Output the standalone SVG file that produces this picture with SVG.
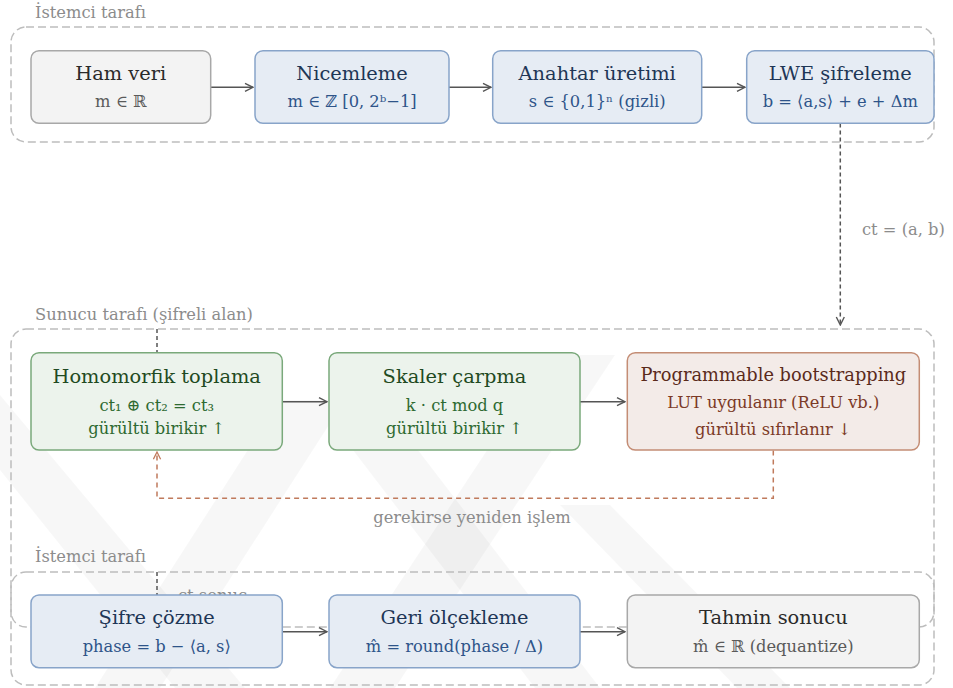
<svg xmlns="http://www.w3.org/2000/svg" width="953" height="688" viewBox="0 0 953 688">
  <defs>
    <marker id="arr" viewBox="0 0 10 10" refX="9" refY="5" markerWidth="10" markerHeight="10" markerUnits="userSpaceOnUse" orient="auto">
      <path d="M1,1 L9,5 L1,9" fill="none" stroke="#555" stroke-width="1.4"/>
    </marker>
    <marker id="arrBrown" viewBox="0 0 10 10" refX="9" refY="5" markerWidth="9" markerHeight="9" markerUnits="userSpaceOnUse" orient="auto">
      <path d="M1,1 L9,5 L1,9" fill="none" stroke="#c07a5c" stroke-width="1.4"/>
    </marker>
  </defs>
  <style>
    text { font-family: "DejaVu Serif", "Liberation Serif", serif; }
    .grp { fill: none; stroke: #bdbdbd; stroke-width: 1.5; stroke-dasharray: 8 4; }
    .grplabel { font-size: 16.3px; fill: #8c8c8c; }
    .title { font-size: 19.4px; text-anchor: middle; }
    .sub { font-size: 16.3px; text-anchor: middle; }
    .gray rect { fill: #f3f3f3; stroke: #a8a8a8; stroke-width: 1.5; }
    .gray .title { fill: #2a2a2a; }
    .gray .sub { fill: #5a5a5a; }
    .blue rect { fill: #e6ecf4; stroke: #88a4c9; stroke-width: 1.5; }
    .blue .title { fill: #1e3656; }
    .blue .sub { fill: #2e5489; }
    .green rect { fill: #ecf3ec; stroke: #7aa97b; stroke-width: 1.5; }
    .green .title { fill: #1f4a22; }
    .green .sub { fill: #2e6a31; }
    .brown rect { fill: #f3ebe8; stroke: #c48d75; stroke-width: 1.5; }
    .brown .title { fill: #5a2a1b; }
    .brown .sub { fill: #7c3a27; }
    .flow { fill: none; stroke: #555; stroke-width: 1.5; marker-end: url(#arr); }
    .hand { fill: none; stroke: #555; stroke-width: 1.5; stroke-dasharray: 4 3; }
    .loop { fill: none; stroke: #c07a5c; stroke-width: 1.5; stroke-dasharray: 5 4; marker-end: url(#arrBrown); }
    .elabel { font-size: 16.3px; fill: #8c8c8c; }
  </style>

  <rect width="953" height="688" fill="#ffffff"/>

  <!-- faint background watermark bands -->
  <g id="watermark" fill="#000" fill-opacity="0.03">
    <polygon points="0,395 0,470 175,688 245,688"/>
    <polygon points="95,688 160,688 345,400 280,400"/>
    <polygon points="330,688 395,688 615,355 550,355"/>
    <polygon points="330,420 395,420 600,688 535,688"/>
    <polygon points="560,505 610,505 790,688 737,688"/>
  </g>

  <!-- dashed region frames -->
  <g id="regions">
    <rect class="grp" x="11" y="27" width="923" height="115" rx="15"/>
    <text class="grplabel" x="35" y="17.5">İstemci tarafı</text>
    <rect class="grp" x="11" y="329" width="923" height="298" rx="15"/>
    <text class="grplabel" x="35" y="320">Sunucu tarafı (şifreli alan)</text>
    <rect class="grp" x="11" y="572" width="923" height="113" rx="15"/>
    <text class="grplabel" x="35" y="562">İstemci tarafı</text>
  </g>

  <!-- connectors -->
  <g id="connectors">
    <line class="flow" x1="210.5" y1="87.3" x2="253" y2="87.3"/>
    <line class="flow" x1="449" y1="87.3" x2="491" y2="87.3"/>
    <line class="flow" x1="702" y1="87.3" x2="745" y2="87.3"/>
    <line class="hand" x1="840.3" y1="123.5" x2="840.3" y2="325" marker-end="url(#arr)"/>
    <text class="elabel" x="862" y="235">ct = (a, b)</text>

    <line class="hand" x1="157" y1="329" x2="157" y2="352"/>
    <line class="flow" x1="282.5" y1="401.7" x2="327" y2="401.7"/>
    <line class="flow" x1="580" y1="401.7" x2="625" y2="401.7"/>
    <polyline class="loop" points="773.3,450.5 773.3,498.3 157,498.3 157,452"/>
    <text class="elabel" x="472" y="523" text-anchor="middle">gerekirse yeniden işlem</text>

    <line class="hand" x1="157" y1="572" x2="157" y2="595"/>
    <text class="elabel" x="178" y="601">ct sonuç</text>
  </g>

  <!-- client side: preparation -->
  <g id="ham-veri" class="gray">
    <rect x="31" y="50.7" width="179.7" height="72.6" rx="8"/>
    <text class="title" x="120.8" y="80">Ham veri</text>
    <text class="sub" x="120.8" y="106.7">m ∈ ℝ</text>
  </g>
  <g id="nicemleme" class="blue">
    <rect x="255" y="50.7" width="194" height="72.6" rx="8"/>
    <text class="title" x="352" y="80">Nicemleme</text>
    <text class="sub" x="352" y="106.7">m ∈ ℤ [0, 2ᵇ−1]</text>
  </g>
  <g id="anahtar-uretimi" class="blue">
    <rect x="492.7" y="50.7" width="209" height="72.6" rx="8"/>
    <text class="title" x="597.2" y="80">Anahtar üretimi</text>
    <text class="sub" x="597.2" y="106.7">s ∈ {0,1}ⁿ (gizli)</text>
  </g>
  <g id="lwe-sifreleme" class="blue">
    <rect x="746.7" y="50.7" width="187.3" height="72.6" rx="8"/>
    <text class="title" x="840.3" y="80">LWE şifreleme</text>
    <text class="sub" x="840.3" y="106.7">b = ⟨a,s⟩ + e + Δm</text>
  </g>

  <!-- server side: encrypted domain -->
  <g id="homomorfik-toplama" class="green">
    <rect x="31" y="352.7" width="251.3" height="97.3" rx="8"/>
    <text class="title" x="156.7" y="383.3">Homomorfik toplama</text>
    <text class="sub" x="156.7" y="410.7">ct₁ ⊕ ct₂ = ct₃</text>
    <text class="sub" x="156.7" y="434">gürültü birikir ↑</text>
  </g>
  <g id="skaler-carpma" class="green">
    <rect x="329" y="352.7" width="251" height="97.3" rx="8"/>
    <text class="title" x="454.5" y="383.3">Skaler çarpma</text>
    <text class="sub" x="454.5" y="410.7">k · ct mod q</text>
    <text class="sub" x="454.5" y="434">gürültü birikir ↑</text>
  </g>
  <g id="programmable-bootstrapping" class="brown">
    <rect x="627.3" y="352.7" width="292" height="97.3" rx="8"/>
    <text class="title" x="773.3" y="381" style="font-size:17.8px">Programmable bootstrapping</text>
    <text class="sub" x="773.3" y="408.3">LUT uygulanır (ReLU vb.)</text>
    <text class="sub" x="773.3" y="435">gürültü sıfırlanır ↓</text>
  </g>

  <!-- client side: decryption -->
  <g id="bottom-arrows">
    <line class="flow" x1="282.5" y1="631.7" x2="327" y2="631.7"/>
    <line class="flow" x1="580" y1="631.7" x2="625" y2="631.7"/>
  </g>
  <g id="sifre-cozme" class="blue">
    <rect x="31" y="595" width="251.3" height="72.7" rx="8"/>
    <text class="title" x="156.7" y="624.3">Şifre çözme</text>
    <text class="sub" x="156.7" y="651.7">phase = b − ⟨a, s⟩</text>
  </g>
  <g id="geri-olcekleme" class="blue">
    <rect x="329" y="595" width="251" height="72.7" rx="8"/>
    <text class="title" x="454.5" y="624.3">Geri ölçekleme</text>
    <text class="sub" x="454.5" y="651.7">m̂ = round(phase / Δ)</text>
  </g>
  <g id="tahmin-sonucu" class="gray">
    <rect x="627.3" y="595" width="292" height="72.7" rx="8"/>
    <text class="title" x="773.3" y="624.3">Tahmin sonucu</text>
    <text class="sub" x="773.3" y="651.7">m̂ ∈ ℝ (dequantize)</text>
  </g>
</svg>
